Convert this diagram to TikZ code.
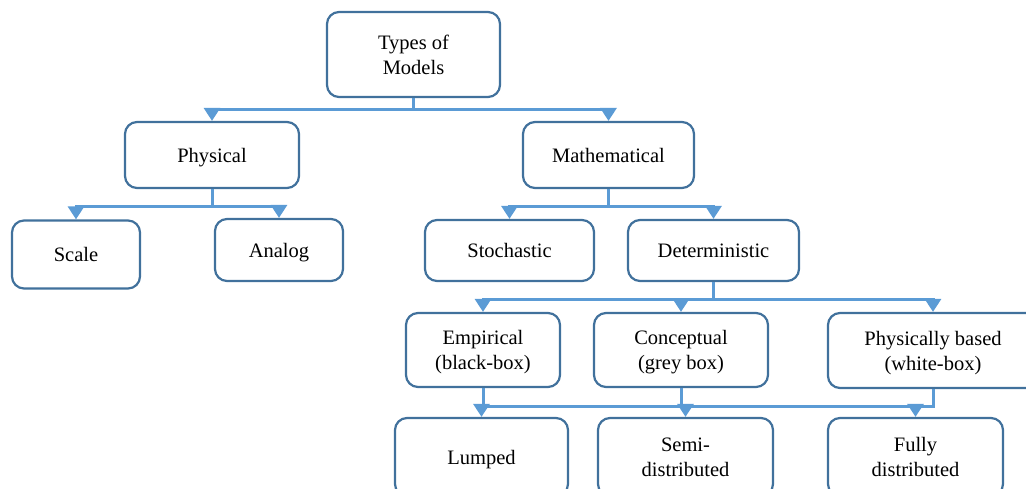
\documentclass[tikz,border=0pt]{standalone}
\usepackage{fontspec}
\setmainfont{Liberation Serif}
\usepackage{xcolor}
\usepackage{tikz}
\usetikzlibrary{positioning,arrows.meta,calc}
\definecolor{boxline}{HTML}{41719C}
\definecolor{linkblue}{HTML}{5B9BD5}
\newcommand{\boxfont}{\fontsize{20.5}{25}\selectfont}
\tikzset{
    model/.style={rectangle, draw=boxline, line width=2.2pt, rounded corners=12pt, fill=white, align=center, inner sep=0pt, text depth=0pt, font=\boxfont},
    link/.style={draw=linkblue, line width=3pt},
    arrow/.style={link, -{Triangle[width=16pt, length=13pt]}}
}

\begin{document}
\begin{tikzpicture}[x=1pt, y=-1pt]

\useasboundingbox (0,0) rectangle (1026,489);
\clip (0,0) rectangle (1026,489);

% top level
\node[model, minimum width=173pt, minimum height=85pt] (types) at (413.5,54.5) {Types of\\Models};

\node[model, minimum width=174pt, minimum height=66pt] (phys) at (212,155) {Physical};
\node[model, minimum width=171pt, minimum height=66pt] (math) at (608.5,155) {Mathematical};

\node[model, minimum width=128pt, minimum height=68pt] (scale) at (76,254.5) {Scale};
\node[model, minimum width=128pt, minimum height=62pt] (analog) at (279,250) {Analog};

\node[model, minimum width=169pt, minimum height=61pt] (stoch) at (509.5,250.5) {Stochastic};
\node[model, minimum width=171pt, minimum height=61pt] (determ) at (713.5,250.5) {Deterministic};

\node[model, minimum width=154pt, minimum height=74pt] (empir) at (483,350) {Empirical\\(black-box)};
\node[model, minimum width=174pt, minimum height=74pt] (concept) at (681,350) {Conceptual\\(grey box)};
\node[model, minimum width=210pt, minimum height=75pt] (physb) at (933,350.5) {Physically based\\(white-box)};

\node[model, minimum width=173pt, minimum height=78pt] (lumped) at (481.5,457) {Lumped};
\node[model, minimum width=175pt, minimum height=78pt] (semi) at (685.5,457) {Semi-\\distributed};
\node[model, minimum width=175pt, minimum height=78pt] (fully) at (915.5,457) {Fully\\distributed};

% connectors
\draw[link] (types.south) -- ++(0,11) coordinate (tj);
\draw[arrow] (tj) -| (phys.north);
\draw[arrow] (tj) -| (math.north);

\draw[link] (phys.south) -- ++(0,17) coordinate (pj);
\draw[arrow] (pj) -| (scale.north);
\draw[arrow] (pj) -| (analog.north);

\draw[link] (math.south) -- ++(0,17) coordinate (mj);
\draw[arrow] (mj) -| (stoch.north);
\draw[arrow] (mj) -| (determ.north);

\draw[link] (determ.south) -- ++(0,17) coordinate (dj);
\draw[arrow] (dj) -| (empir.north);
\draw[arrow] (dj) -| (concept.north);
\draw[arrow] (dj) -| (physb.north);

\draw[link] (empir.south) -- ++(0,18) coordinate (ej);
\draw[link] (concept.south) -- (concept.south |- ej);
\draw[link] (physb.south) -- (physb.south |- ej) -- (ej);
\draw[arrow] (lumped.north |- ej) -- (lumped.north);
\draw[arrow] (semi.north |- ej) -- (semi.north);
\draw[arrow] (fully.north |- ej) -- (fully.north);

\end{tikzpicture}
\end{document}
